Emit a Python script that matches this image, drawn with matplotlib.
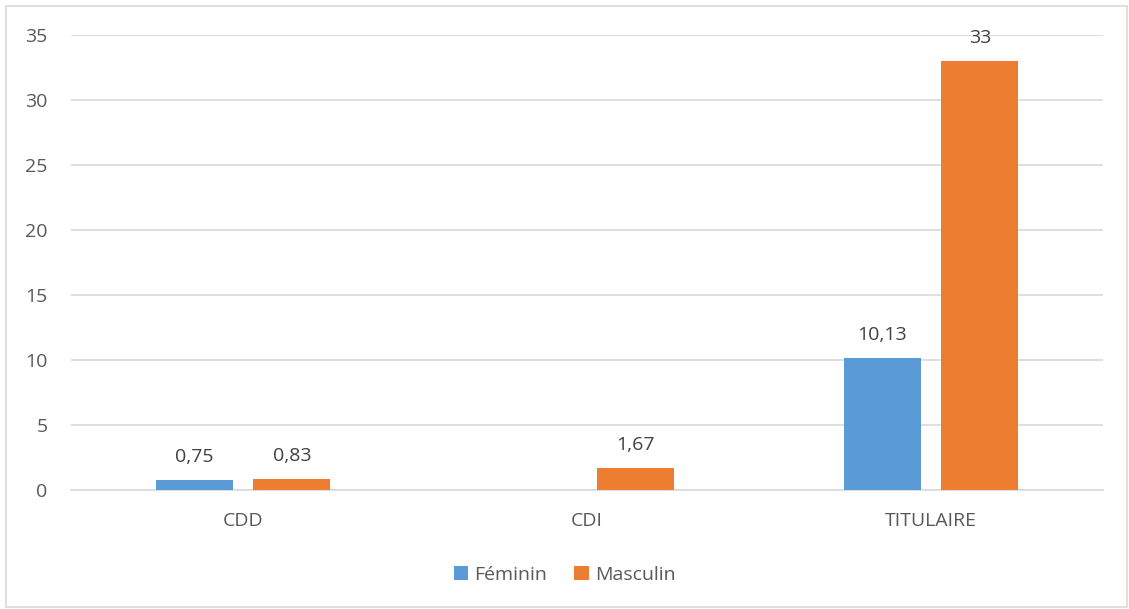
import numpy as np
import matplotlib
matplotlib.use("Agg")
import matplotlib.pyplot as plt
from matplotlib.patches import Rectangle

plt.rcParams['font.family'] = ['Open Sans', 'DejaVu Sans']

# donnees
categories = ["CDD", "CDI", "TITULAIRE"]
feminin = [0.75, 0, 10.13]
masculin = [0.83, 1.67, 33]
lab_fem = ["0,75", "", "10,13"]
lab_masc = ["0,83", "1,67", "33"]
yticks = [0, 5, 10, 15, 20, 25, 30, 35]

bleu = "#5b9bd5"
orange = "#ed7d31"
gris_txt = "#595959"
taille = 14

W, H = 1129, 609
fig = plt.figure(figsize=(W / 100, H / 100), dpi=100)
ax = fig.add_axes([71 / W, 1 - 490 / H, (1103 - 71) / W, (490 - 35) / H])

x = np.arange(len(categories))
larg = 0.224
dec = 0.142
b1 = ax.bar(x - dec, feminin, larg, color=bleu, label="Féminin", zorder=3)
b2 = ax.bar(x + dec, masculin, larg, color=orange, label="Masculin", zorder=3)

for rects, labs in [(b1, lab_fem), (b2, lab_masc)]:
    for r, t in zip(rects, labs):
        if t:
            ax.annotate(t, (r.get_x() + r.get_width() / 2, r.get_height()),
                        xytext=(0, 10), textcoords="offset points",
                        ha="center", va="bottom", fontsize=taille, color="#404040")

ax.set_xlim(-0.5, 2.5)
ax.set_ylim(0, 35)
ax.set_yticks(yticks)
ax.set_yticklabels([str(v) for v in yticks])
ax.set_xticks(x)
ax.set_xticklabels(categories)
ax.tick_params(axis="both", length=0, labelsize=taille, colors=gris_txt)
ax.tick_params(axis="y", pad=17)
ax.tick_params(axis="x", pad=16)
ax.yaxis.grid(True, color="#d9d9d9", linewidth=1.2, zorder=0)
for s in ["top", "right", "left"]:
    ax.spines[s].set_visible(False)
ax.spines["bottom"].set_color("#d9d9d9")
ax.spines["bottom"].set_linewidth(1.2)

leg = fig.legend(loc="center", bbox_to_anchor=(0.5, 1 - 575 / H), ncol=2,
                 frameon=False, fontsize=taille, handlelength=0.75, handleheight=0.75,
                 handletextpad=0.3, columnspacing=1.4)
for t in leg.get_texts():
    t.set_color(gris_txt)

# cadre autour du graphique
fig.patches.append(Rectangle((6 / W, 2 / H), 1 - 8 / W, 1 - 8 / H,
                             transform=fig.transFigure, fill=False,
                             edgecolor="#d9d9d9", linewidth=1.2))

fig.savefig("out.png", dpi=100)
